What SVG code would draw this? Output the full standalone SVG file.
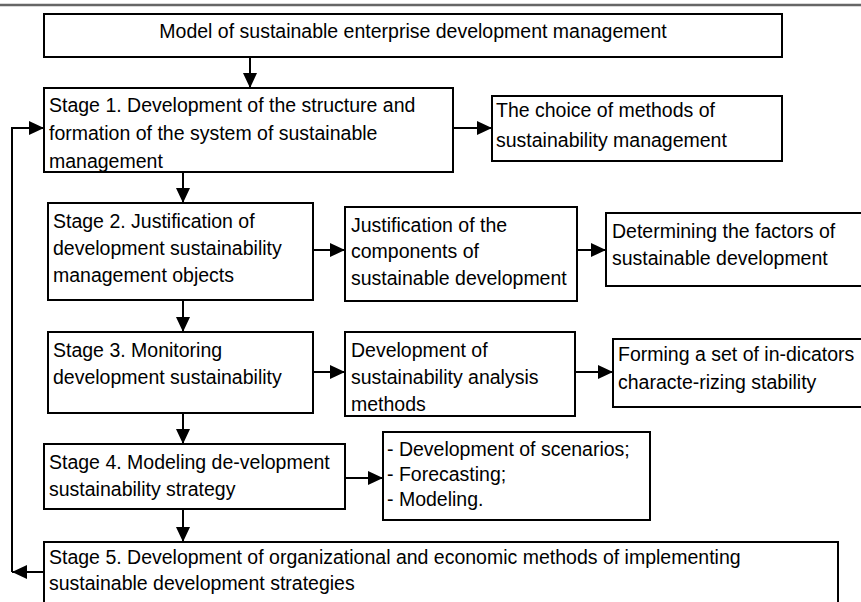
<svg xmlns="http://www.w3.org/2000/svg" width="861" height="602" viewBox="0 0 861 602">
<defs>
<marker id="ah" markerUnits="userSpaceOnUse" markerWidth="16" markerHeight="15" refX="15" refY="7" orient="auto">
<path d="M0,0 L15,7 L0,14 z" fill="#000"/>
</marker>
<style>
.box{fill:#fff;stroke:#000;stroke-width:2}
.t{font-family:"Liberation Sans",Arial,sans-serif;font-size:19.5px;fill:#000}
.c{fill:none;stroke:#000;stroke-width:2;marker-end:url(#ah)}
</style>
</defs>
<rect width="861" height="602" fill="#fff"/>
<line x1="0" y1="5" x2="861" y2="5" stroke="#666" stroke-width="2.5"/>
<g id="model">
<rect class="box" x="44" y="14" width="738" height="43"/>
<text class="t" x="413" y="38" text-anchor="middle">Model of sustainable enterprise development management</text>
</g>
<g id="stage1">
<rect class="box" x="44" y="88" width="409" height="84"/>
<text class="t" x="49" y="112">Stage 1. Development of the structure and</text>
<text class="t" x="49" y="140">formation of the system of sustainable</text>
<text class="t" x="49" y="168">management</text>
</g>
<g id="choice">
<rect class="box" x="492" y="96" width="290" height="65"/>
<text class="t" x="496" y="117">The choice of methods of</text>
<text class="t" x="496" y="147">sustainability management</text>
</g>
<g id="stage2">
<rect class="box" x="48" y="203" width="265" height="97"/>
<text class="t" x="53" y="228">Stage 2. Justification of</text>
<text class="t" x="53" y="255">development sustainability</text>
<text class="t" x="53" y="282">management objects</text>
</g>
<g id="components">
<rect class="box" x="345" y="207" width="232" height="94"/>
<text class="t" x="351" y="232">Justification of the</text>
<text class="t" x="351" y="258">components of</text>
<text class="t" x="351" y="285">sustainable development</text>
</g>
<g id="factors">
<rect class="box" x="606" y="213" width="262" height="73"/>
<text class="t" x="612" y="238">Determining the factors of</text>
<text class="t" x="612" y="265">sustainable development</text>
</g>
<g id="stage3">
<rect class="box" x="48" y="332" width="265" height="81"/>
<text class="t" x="53" y="357">Stage 3. Monitoring</text>
<text class="t" x="53" y="384">development sustainability</text>
</g>
<g id="analysis">
<rect class="box" x="345" y="332" width="230" height="84"/>
<text class="t" x="351" y="357">Development of</text>
<text class="t" x="351" y="384">sustainability analysis</text>
<text class="t" x="351" y="411">methods</text>
</g>
<g id="indicators">
<rect class="box" x="613" y="339" width="255" height="68"/>
<text class="t" x="618" y="361">Forming a set of in-dicators</text>
<text class="t" x="618" y="389">characte-rizing stability</text>
</g>
<g id="stage4">
<rect class="box" x="44" y="444" width="301" height="65"/>
<text class="t" x="49" y="469">Stage 4. Modeling de-velopment</text>
<text class="t" x="49" y="496">sustainability strategy</text>
</g>
<g id="methods">
<rect class="box" x="383" y="432" width="267" height="88"/>
<text class="t" x="387" y="456">- Development of scenarios;</text>
<text class="t" x="387" y="481">- Forecasting;</text>
<text class="t" x="387" y="506">- Modeling.</text>
</g>
<g id="stage5">
<rect class="box" x="44" y="542" width="794" height="70"/>
<text class="t" x="49" y="564">Stage 5. Development of organizational and economic methods of implementing</text>
<text class="t" x="49" y="590">sustainable development strategies</text>
</g>
<g id="connectors">
<path class="c" d="M250,57 V88"/>
<path class="c" d="M453,128 H492"/>
<path class="c" d="M183,172 V203"/>
<path class="c" d="M313,250 H345"/>
<path class="c" d="M577,250 H606"/>
<path class="c" d="M183,300 V332"/>
<path class="c" d="M313,372 H345"/>
<path class="c" d="M575,372 H613"/>
<path class="c" d="M183,413 V444"/>
<path class="c" d="M345,478 H383"/>
<path class="c" d="M183,509 V542"/>
<path class="c" d="M44,572 H12"/>
<path class="c" d="M12,572 V128 H44"/>
</g>
</svg>
